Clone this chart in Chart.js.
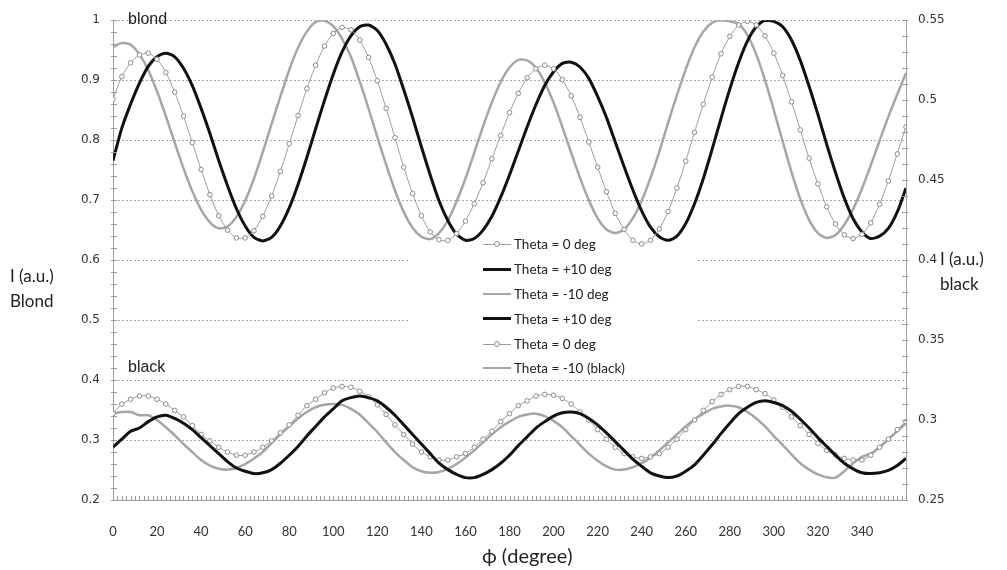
<!DOCTYPE html>
<html>
<head>
<meta charset="utf-8">
<script src="https://cdn.jsdelivr.net/npm/chart.js@4"></script>
<style>
  body { margin: 0; background: #fff; }
  #wrap { position: relative; width: 1007px; height: 570px; }
  .txt { position: absolute; color: #222; white-space: nowrap; }
  .axt { font-family: Lato, "Open Sans", sans-serif; font-size: 17px; line-height: 25px; }
  .tag { font-family: "Liberation Sans", Arial, sans-serif; font-size: 16px; }
  #legend { position: absolute; left: 483px; top: 232px; font-family: Lato, sans-serif; font-size: 13.5px; color: #222; }
  #legend .row { height: 24.8px; display: flex; align-items: center; }
  #legend .smp { position: relative; width: 28px; height: 10px; margin-right: 3px; }
  #legend .smp i { position: absolute; left: 0; right: 0; top: 50%; }
  #legend .smp b { position: absolute; left: 11px; top: 2px; width: 4px; height: 4px; border: 1px solid #8c8c8c; border-radius: 50%; background: #fff; }
</style>
</head>
<body>
<div id="wrap">
  <canvas id="grafico"></canvas>
  <div class="txt axt" style="left:10px; top:263px;">I (a.u.)<br>Blond</div>
  <div class="txt axt" style="left:940px; top:246px;">I (a.u.)<br>black</div>
  <div class="txt axt" style="left:482px; top:543px; font-size:20px;">ϕ (degree)</div>
  <div class="txt tag" style="left:128px; top:10px;">blond</div>
  <div class="txt tag" style="left:128px; top:358px;">black</div>
  <div id="legend"></div>
</div>
<script>
// angulo phi (grados)
const phi = [
  0, 4, 8, 12, 16, 20, 24, 28, 32, 36,
  40, 44, 48, 52, 56, 60, 64, 68, 72, 76,
  80, 84, 88, 92, 96, 100, 104, 108, 112, 116,
  120, 124, 128, 132, 136, 140, 144, 148, 152, 156,
  160, 164, 168, 172, 176, 180, 184, 188, 192, 196,
  200, 204, 208, 212, 216, 220, 224, 228, 232, 236,
  240, 244, 248, 252, 256, 260, 264, 268, 272, 276,
  280, 284, 288, 292, 296, 300, 304, 308, 312, 316,
  320, 324, 328, 332, 336, 340, 344, 348, 352, 356,
  360
];

// pelo rubio (eje izquierdo)
const blond0 = [
  0.868, 0.906, 0.929, 0.942, 0.945, 0.935, 0.913, 0.880, 0.840, 0.796,
  0.751, 0.709, 0.674, 0.650, 0.637, 0.637, 0.649, 0.673, 0.707, 0.748,
  0.794, 0.841, 0.886, 0.925, 0.957, 0.978, 0.988, 0.984, 0.967, 0.938,
  0.899, 0.853, 0.804, 0.755, 0.711, 0.674, 0.647, 0.634, 0.633, 0.644,
  0.665, 0.694, 0.729, 0.769, 0.808, 0.846, 0.878, 0.904, 0.919, 0.925,
  0.919, 0.901, 0.874, 0.838, 0.797, 0.755, 0.714, 0.678, 0.651, 0.633,
  0.627, 0.633, 0.652, 0.681, 0.720, 0.765, 0.813, 0.860, 0.905, 0.944,
  0.973, 0.992, 0.998, 0.992, 0.974, 0.945, 0.908, 0.864, 0.817, 0.770,
  0.727, 0.689, 0.660, 0.642, 0.636, 0.643, 0.662, 0.693, 0.732, 0.777,
  0.822
];
const blondP10 = [
  0.766, 0.820, 0.860, 0.895, 0.923, 0.939, 0.945, 0.939, 0.920, 0.891,
  0.853, 0.811, 0.766, 0.724, 0.686, 0.657, 0.638, 0.632, 0.638, 0.657,
  0.687, 0.726, 0.771, 0.819, 0.866, 0.910, 0.947, 0.974, 0.989, 0.992,
  0.983, 0.960, 0.927, 0.884, 0.838, 0.789, 0.742, 0.699, 0.666, 0.643,
  0.633, 0.636, 0.650, 0.673, 0.705, 0.742, 0.782, 0.822, 0.859, 0.891,
  0.914, 0.928, 0.930, 0.922, 0.903, 0.873, 0.838, 0.797, 0.756, 0.717,
  0.682, 0.655, 0.639, 0.633, 0.640, 0.661, 0.694, 0.736, 0.785, 0.836,
  0.885, 0.929, 0.965, 0.989, 1.000, 0.998, 0.989, 0.967, 0.933, 0.890,
  0.843, 0.793, 0.746, 0.703, 0.669, 0.647, 0.636, 0.640, 0.653, 0.680,
  0.720
];
const blondM10 = [
  0.955, 0.962, 0.959, 0.943, 0.917, 0.881, 0.840, 0.796, 0.753, 0.715,
  0.684, 0.663, 0.653, 0.656, 0.672, 0.699, 0.736, 0.780, 0.827, 0.873,
  0.917, 0.954, 0.981, 0.997, 0.999, 0.990, 0.969, 0.939, 0.898, 0.853,
  0.805, 0.759, 0.716, 0.680, 0.654, 0.639, 0.635, 0.645, 0.666, 0.698,
  0.736, 0.779, 0.823, 0.863, 0.897, 0.921, 0.934, 0.933, 0.921, 0.896,
  0.863, 0.822, 0.779, 0.737, 0.700, 0.670, 0.651, 0.645, 0.651, 0.670,
  0.699, 0.737, 0.781, 0.829, 0.875, 0.918, 0.955, 0.981, 0.996, 1.000,
  0.998, 0.994, 0.975, 0.943, 0.900, 0.850, 0.798, 0.747, 0.702, 0.667,
  0.645, 0.637, 0.642, 0.659, 0.685, 0.719, 0.758, 0.799, 0.839, 0.876,
  0.912
];

// pelo negro (eje derecho)
const blackP10 = [
  0.283, 0.288, 0.293, 0.295, 0.299, 0.302, 0.303, 0.301, 0.298, 0.294,
  0.289, 0.284, 0.279, 0.274, 0.270, 0.268, 0.2665, 0.267, 0.269, 0.273,
  0.278, 0.2835, 0.290, 0.296, 0.302, 0.307, 0.312, 0.314, 0.315, 0.314,
  0.312, 0.308, 0.303, 0.297, 0.291, 0.285, 0.279, 0.273, 0.269, 0.266,
  0.264, 0.264, 0.266, 0.269, 0.273, 0.278, 0.284, 0.2895, 0.295, 0.299,
  0.3025, 0.3045, 0.305, 0.304, 0.301, 0.297, 0.292, 0.2865, 0.281, 0.2755,
  0.271, 0.267, 0.265, 0.264, 0.265, 0.268, 0.272, 0.278, 0.2845, 0.2915,
  0.298, 0.304, 0.308, 0.311, 0.312, 0.311, 0.309, 0.3055, 0.3005, 0.295,
  0.289, 0.2835, 0.278, 0.273, 0.2695, 0.267, 0.2665, 0.267, 0.2685, 0.2715,
  0.276
];
const black0 = [
  0.304, 0.310, 0.313, 0.315, 0.315, 0.313, 0.310, 0.306, 0.302, 0.2965,
  0.291, 0.287, 0.283, 0.280, 0.278, 0.278, 0.280, 0.283, 0.287, 0.292,
  0.297, 0.303, 0.309, 0.313, 0.317, 0.320, 0.321, 0.3205, 0.318, 0.3145,
  0.3095, 0.3035, 0.297, 0.291, 0.285, 0.280, 0.277, 0.275, 0.275, 0.277,
  0.279, 0.283, 0.288, 0.293, 0.299, 0.304, 0.309, 0.312, 0.315, 0.316,
  0.3155, 0.3135, 0.310, 0.305, 0.300, 0.294, 0.288, 0.283, 0.279, 0.277,
  0.276, 0.277, 0.279, 0.283, 0.288, 0.294, 0.300, 0.306, 0.3115, 0.316,
  0.319, 0.321, 0.321, 0.319, 0.3165, 0.3125, 0.308, 0.302, 0.2965, 0.291,
  0.2855, 0.281, 0.278, 0.276, 0.275, 0.275, 0.278, 0.283, 0.288, 0.294,
  0.299
];
const blackM10 = [
  0.304, 0.305, 0.305, 0.303, 0.303, 0.300, 0.2955, 0.2905, 0.285, 0.280,
  0.275, 0.2715, 0.2695, 0.269, 0.270, 0.2725, 0.276, 0.280, 0.2855, 0.291,
  0.296, 0.301, 0.305, 0.308, 0.3095, 0.310, 0.3095, 0.307, 0.3035, 0.298,
  0.2925, 0.286, 0.280, 0.275, 0.2705, 0.268, 0.267, 0.2675, 0.2695, 0.2725,
  0.2765, 0.281, 0.286, 0.291, 0.2955, 0.299, 0.302, 0.3035, 0.304, 0.3025,
  0.2995, 0.2955, 0.290, 0.2845, 0.279, 0.2745, 0.271, 0.269, 0.269, 0.2705,
  0.273, 0.2765, 0.281, 0.286, 0.291, 0.296, 0.3005, 0.304, 0.307, 0.3085,
  0.309, 0.308, 0.305, 0.301, 0.296, 0.290, 0.2845, 0.2785, 0.273, 0.269,
  0.266, 0.2642, 0.264, 0.268, 0.273, 0.277, 0.279, 0.283, 0.288, 0.293,
  0.298
];

const leftTicks = [0.2, 0.3, 0.4, 0.5, 0.6, 0.7, 0.8, 0.9, 1];
const rightTicks = [0.25, 0.3, 0.35, 0.4, 0.45, 0.5, 0.55];
const xTicks = [0, 20, 40, 60, 80, 100, 120, 140, 160, 180, 200, 220, 240, 260, 280, 300, 320, 340];

const GRIS = '#a6a6a6';
const NEGRO = '#111111';

function puntos(valores) {
  return phi.map((p, i) => ({ x: p, y: valores[i] }));
}

function serieCirculos(label, valores, eje) {
  return {
    label: label, data: puntos(valores), yAxisID: eje,
    borderColor: '#9c9c9c', borderWidth: 1,
    pointRadius: 2.3, pointHoverRadius: 2.3,
    pointBorderColor: '#8a8a8a', pointBackgroundColor: '#ffffff', pointBorderWidth: 1,
    tension: 0.25
  };
}
function serieLinea(label, valores, eje, color, ancho) {
  return {
    label: label, data: puntos(valores), yAxisID: eje,
    borderColor: color, borderWidth: ancho, pointRadius: 0, tension: 0.25
  };
}

const datasets = [
  serieCirculos('Theta = 0 deg', blond0, 'y'),
  serieLinea('Theta = +10 deg', blondP10, 'y', NEGRO, 3),
  serieLinea('Theta = -10 deg', blondM10, 'y', GRIS, 2.5),
  serieLinea('Theta = +10 deg', blackP10, 'y1', NEGRO, 3),
  serieCirculos('Theta = 0 deg', black0, 'y1'),
  serieLinea('Theta = -10 (black)', blackM10, 'y1', GRIS, 2.5)
];

// fondo blanco de la leyenda (tapa la rejilla)
const fondoLeyenda = {
  id: 'fondoLeyenda',
  beforeDatasetsDraw(chart) {
    const { ctx, scales } = chart;
    const x0 = scales.x.getPixelForValue(134);
    const x1 = scales.x.getPixelForValue(265);
    const y0 = scales.y.getPixelForValue(0.615);
    const y1 = scales.y.getPixelForValue(0.42);
    ctx.save();
    ctx.fillStyle = '#ffffff';
    ctx.fillRect(x0, y0, x1 - x0, y1 - y0);
    ctx.restore();
  }
};

// marcas menores hacia dentro, como en Excel
const marcas = {
  id: 'marcas',
  afterDraw(chart) {
    const { ctx, chartArea: a, scales } = chart;
    ctx.save();
    ctx.strokeStyle = '#9a9a9a';
    ctx.lineWidth = 1;
    ctx.beginPath();
    for (let v = 0; v <= 360; v += 2) {
      const px = Math.round(scales.x.getPixelForValue(v)) + 0.5;
      ctx.moveTo(px, a.bottom);
      ctx.lineTo(px, a.bottom - 4);
    }
    for (let i = 0; i <= 40; i++) {
      const py = Math.round(scales.y.getPixelForValue(0.2 + i * 0.02)) + 0.5;
      ctx.moveTo(a.left - 2, py);
      ctx.lineTo(a.left + 4, py);
    }
    for (let i = 0; i <= 30; i++) {
      const py = Math.round(scales.y1.getPixelForValue(0.25 + i * 0.01)) + 0.5;
      ctx.moveTo(a.right + 2, py);
      ctx.lineTo(a.right - 4, py);
    }
    ctx.stroke();
    ctx.restore();
  }
};

const fmt = v => String(+Number(v).toFixed(2));

new Chart(document.getElementById('grafico'), {
  type: 'line',
  data: { datasets: datasets },
  options: {
    responsive: true,
    maintainAspectRatio: false,
    animation: false,
    layout: { padding: { top: 15 } },
    plugins: { legend: { display: false }, tooltip: { enabled: false } },
    scales: {
      x: {
        type: 'linear', min: 0, max: 360,
        afterBuildTicks: s => { s.ticks = xTicks.map(v => ({ value: v })); },
        afterFit: s => { s.height = 70; },
        grid: { display: false },
        border: { color: '#a0a0a0', width: 1 },
        ticks: { padding: 16, color: '#333', font: { family: "'Liberation Sans Narrow', Lato, sans-serif", size: 13 } }
      },
      y: {
        position: 'left', min: 0.2, max: 1,
        afterBuildTicks: s => { s.ticks = leftTicks.map(v => ({ value: v })); },
        afterFit: s => { s.width = 113; },
        grid: { color: '#a8a8a8', lineWidth: 1, drawTicks: false },
        border: { color: '#a0a0a0', width: 1, dash: [2, 2] },
        ticks: { padding: 13, color: '#333', callback: fmt, font: { family: "'DejaVu Sans', sans-serif", size: 12 } }
      },
      y1: {
        position: 'right', min: 0.25, max: 0.55,
        afterBuildTicks: s => { s.ticks = rightTicks.map(v => ({ value: v })); },
        afterFit: s => { s.width = 101; },
        grid: { display: false, drawTicks: false },
        border: { color: '#a0a0a0', width: 1 },
        ticks: { padding: 12, color: '#333', callback: fmt, font: { family: "'DejaVu Sans', sans-serif", size: 12 } }
      }
    }
  },
  plugins: [fondoLeyenda, marcas]
});

// leyenda en HTML, en el centro del grafico
const leyenda = document.getElementById('legend');
datasets.forEach(ds => {
  const fila = document.createElement('div');
  fila.className = 'row';
  const muestra = document.createElement('span');
  muestra.className = 'smp';
  const linea = document.createElement('i');
  const circulo = ds.pointRadius > 0;
  linea.style.borderTop = (circulo ? 1 : ds.borderWidth) + 'px solid ' + ds.borderColor;
  linea.style.marginTop = circulo ? '0px' : (-ds.borderWidth / 2) + 'px';
  muestra.appendChild(linea);
  if (circulo) muestra.appendChild(document.createElement('b'));
  fila.appendChild(muestra);
  fila.appendChild(document.createTextNode(ds.label));
  leyenda.appendChild(fila);
});
</script>
</body>
</html>
